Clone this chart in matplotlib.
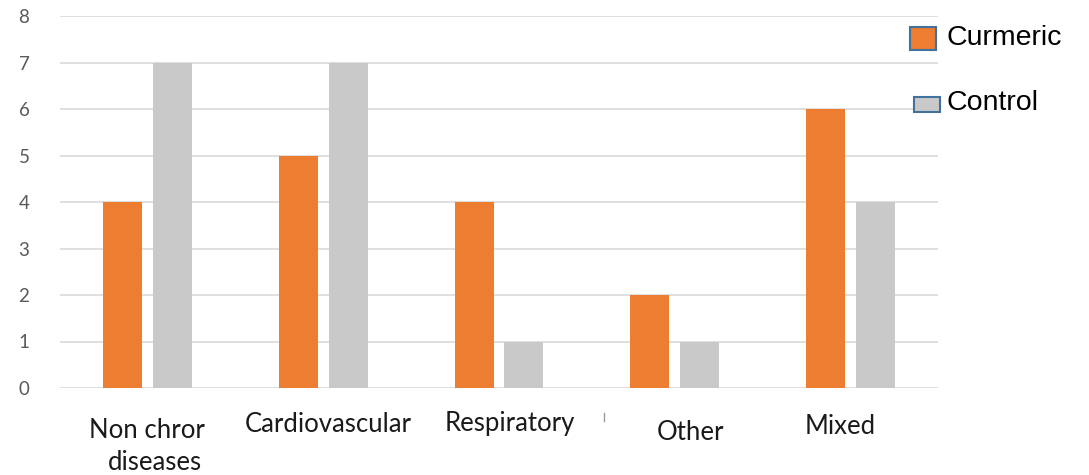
import matplotlib
import matplotlib.pyplot as plt
import numpy as np
from matplotlib.patches import Rectangle

matplotlib.use("Agg")

categories = ["Non chror\ndiseases", "Cardiovascular", "Respiratory", "Other", "Mixed"]
curmeric = [4, 5, 4, 2, 6]
control = [7, 7, 1, 1, 4]
y_ticks = [0, 1, 2, 3, 4, 5, 6, 7, 8]

ORANGE = "#ed7d31"
GREY = "#c9c9c9"
EDGE = "#41719c"
LABEL_FONT = dict(fontsize=18.5, family="Lato", color="#1a1a1a")

W, H = 1089, 475
fig = plt.figure(figsize=(W / 100, H / 100), dpi=100)
ax = fig.add_axes([60 / W, 1 - 388 / H, 878 / W, 372 / H])

x = np.arange(len(categories))
width = 0.222
ax.bar(x - 0.142, curmeric, width, color=ORANGE, zorder=3)
ax.bar(x + 0.142, control, width, color=GREY, zorder=3)

ax.set_xlim(-0.5, len(categories) - 0.5)
ax.set_ylim(0, 8)
ax.set_yticks(y_ticks)
ax.yaxis.grid(True, color="#d9d9d9", linewidth=1.2, zorder=0)
ax.set_axisbelow(True)
for spine in ax.spines.values():
    spine.set_visible(False)
ax.tick_params(axis="y", length=0, pad=22, labelsize=13.5, labelcolor="#595959")
ax.set_xticks([])
for lbl in ax.get_yticklabels():
    lbl.set_fontfamily("Lato")

# category labels sit at slightly uneven heights below the axis
fig.text(147 / W, 1 - 430 / H, "Non chror", ha="center", va="center", **LABEL_FONT)
fig.text(155 / W, 1 - 462 / H, "diseases", ha="center", va="center", **LABEL_FONT)
label_pos = [(328, 424), (510, 424), (690, 433), (840, 427)]
for text, (px, py) in zip(categories[1:], label_pos):
    fig.text(px / W, 1 - py / H, text, ha="center", va="center", **LABEL_FONT)
fig.lines.append(plt.Line2D([604 / W, 604 / W], [1 - 413 / H, 1 - 421 / H],
                            transform=fig.transFigure, color="#999999", lw=1))

# legend drawn by hand
fig.patches.append(Rectangle((910 / W, 1 - 50 / H), 26 / W, 23 / H,
                             transform=fig.transFigure, facecolor=ORANGE,
                             edgecolor=EDGE, linewidth=1.5))
fig.patches.append(Rectangle((914 / W, 1 - 112 / H), 26 / W, 15 / H,
                             transform=fig.transFigure, facecolor=GREY,
                             edgecolor=EDGE, linewidth=1.5))
fig.text(947 / W, 1 - 38 / H, "Curmeric", ha="left", va="center",
         fontsize=20.5, family="Liberation Sans", color="black")
fig.text(947 / W, 1 - 103 / H, "Control", ha="left", va="center",
         fontsize=20.5, family="Liberation Sans", color="black")

fig.savefig("out.png", dpi=100, facecolor="white")
